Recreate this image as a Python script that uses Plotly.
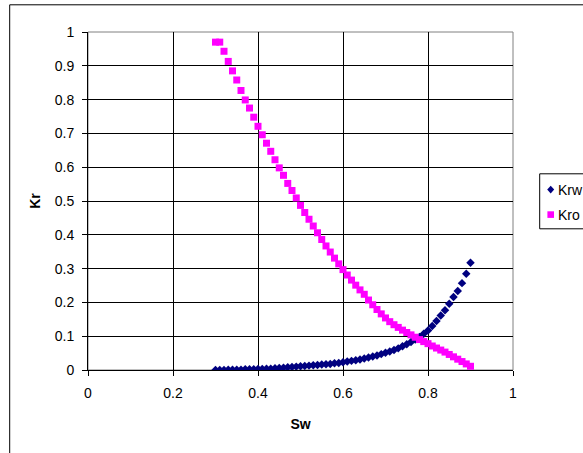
import plotly.graph_objects as go

sw = [round(0.30 + 0.01 * i, 2) for i in range(61)]

krw = [0.000, 0.000, 0.000, 0.001, 0.001, 0.001, 0.001, 0.002, 0.002, 0.002,
       0.003, 0.003, 0.004, 0.004, 0.005, 0.006, 0.007, 0.008, 0.009, 0.010,
       0.011, 0.012, 0.013, 0.014, 0.015, 0.016, 0.017, 0.018, 0.020, 0.021,
       0.023, 0.025, 0.027, 0.029, 0.031, 0.034, 0.037, 0.040, 0.043, 0.047,
       0.051, 0.055, 0.059, 0.064, 0.070, 0.076, 0.083, 0.090, 0.098, 0.107,
       0.117, 0.130, 0.145, 0.161, 0.177, 0.196, 0.216, 0.234, 0.257, 0.285,
       0.317]

kro = [0.970, 0.970, 0.943, 0.913, 0.885, 0.858, 0.827, 0.799, 0.775, 0.748,
       0.721, 0.696, 0.671, 0.647, 0.622, 0.598, 0.576, 0.552, 0.531, 0.509,
       0.487, 0.466, 0.446, 0.426, 0.406, 0.386, 0.367, 0.349, 0.331, 0.314,
       0.297, 0.281, 0.266, 0.251, 0.237, 0.224, 0.207, 0.193, 0.179, 0.166,
       0.154, 0.143, 0.134, 0.126, 0.118, 0.111, 0.104, 0.097, 0.090, 0.084,
       0.078, 0.071, 0.065, 0.059, 0.053, 0.046, 0.039, 0.032, 0.025, 0.018,
       0.011]

series_names = ["Krw", "Kro"]
x_ticks = [0, 0.2, 0.4, 0.6, 0.8, 1]
x_labels = ["0", "0.2", "0.4", "0.6", "0.8", "1"]
y_ticks = [round(0.1 * i, 1) for i in range(11)]
y_labels = ["0", "0.1", "0.2", "0.3", "0.4", "0.5", "0.6", "0.7", "0.8", "0.9", "1"]

FONT = "Liberation Sans, Arial, sans-serif"
FS = 14
NAVY = "#000080"
MAGENTA = "#FF00FF"

fig = go.Figure()
fig.add_trace(go.Scatter(x=sw, y=krw, mode="markers", name=series_names[0],
                         showlegend=False,
                         marker=dict(symbol="diamond", size=6.5, color=NAVY,
                                     line=dict(width=0))))
fig.add_trace(go.Scatter(x=sw, y=kro, mode="markers", name=series_names[1],
                         showlegend=False,
                         marker=dict(symbol="square", size=7, color=MAGENTA,
                                     line=dict(width=0))))

W, H = 583, 453
L, R, T, B = 88.3, W - 513.3, 31.7, H - 369.7
pw, ph = W - L - R, H - T - B


def px(x):
    return (x - L) / pw


def py(y):
    return (H - B - y) / ph


# legend box drawn by hand (it runs off the right edge, as in the reference)
leg_shapes = [
    dict(type="rect", xref="paper", yref="paper",
         x0=px(540), x1=px(620), y0=py(228.5), y1=py(173.5),
         line=dict(color="black", width=1), fillcolor="white"),
    dict(type="path", xref="paper", yref="paper",
         path=f"M {px(551)} {py(185.5)} L {px(554.5)} {py(189.3)} L {px(551)} {py(193.1)} L {px(547.5)} {py(189.3)} Z",
         line=dict(width=0), fillcolor=NAVY),
    dict(type="rect", xref="paper", yref="paper",
         x0=px(547.7), x1=px(554.3), y0=py(217.6), y1=py(211),
         line=dict(width=0), fillcolor=MAGENTA),
]

leg_ann = [
    dict(text=series_names[0], xref="paper", yref="paper", x=px(556), y=py(189.5),
         xanchor="left", yanchor="middle", showarrow=False,
         font=dict(family=FONT, size=FS, color="black")),
    dict(text=series_names[1], xref="paper", yref="paper", x=px(556), y=py(214.5),
         xanchor="left", yanchor="middle", showarrow=False,
         font=dict(family=FONT, size=FS, color="black")),
]

fig.update_layout(
    width=W, height=H,
    margin=dict(l=L, r=R, t=T, b=B, autoexpand=False),
    paper_bgcolor="white", plot_bgcolor="white",
    font=dict(family=FONT, size=FS, color="black"),
    showlegend=False,
    xaxis=dict(range=[0, 1], tickvals=x_ticks, ticktext=x_labels,
               showgrid=True, gridcolor="black", gridwidth=1,
               showline=True, linecolor="black", linewidth=1,
               ticks="outside", ticklen=5, tickcolor="black",
               zeroline=False, mirror=False, ticklabelstandoff=5,
               tickfont=dict(family=FONT, size=FS),
               title=dict(text="<b>Sw</b>", standoff=19,
                          font=dict(family=FONT, size=FS))),
    yaxis=dict(range=[0, 1], tickvals=y_ticks, ticktext=y_labels,
               showgrid=True, gridcolor="black", gridwidth=1,
               showline=True, linecolor="black", linewidth=1,
               ticks="outside", ticklen=5, tickcolor="black",
               zeroline=False, ticklabelstandoff=5,
               tickfont=dict(family=FONT, size=FS),
               title=dict(text="<b>Kr</b>", standoff=10,
                          font=dict(family=FONT, size=FS))),
    shapes=[
        dict(type="rect", xref="paper", yref="paper", x0=0, x1=1, y0=0, y1=1,
             line=dict(color="#808080", width=1), layer="below"),
        dict(type="rect", xref="paper", yref="paper",
             x0=px(10), x1=2.0, y0=-1.0, y1=py(4.5),
             line=dict(color="black", width=1), fillcolor="rgba(0,0,0,0)"),
    ] + leg_shapes,
    annotations=leg_ann,
)

fig.write_html("out.html")
